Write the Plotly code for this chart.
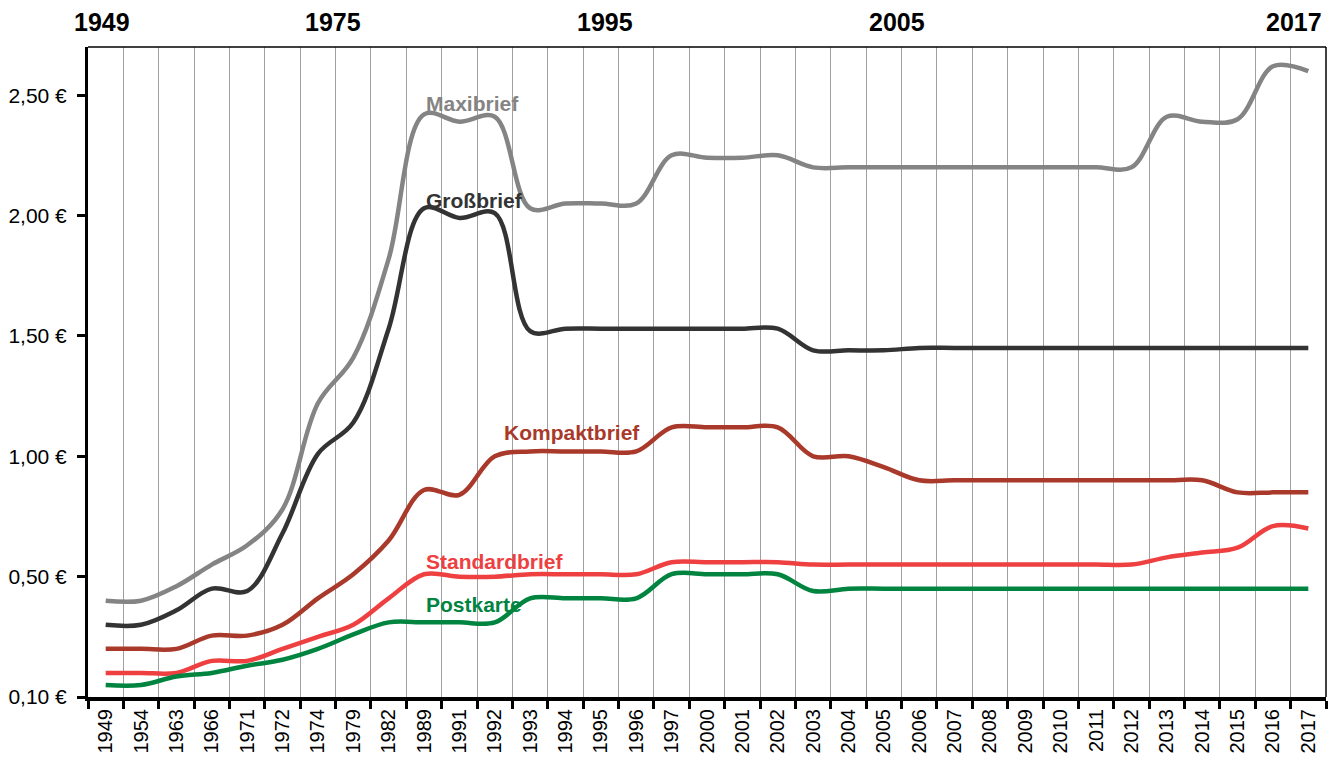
import plotly.graph_objects as go

years = ["1949", "1954", "1963", "1966", "1971", "1972", "1974", "1979", "1982", "1989",
         "1991", "1992", "1993", "1994", "1995", "1996", "1997", "2000", "2001", "2002",
         "2003", "2004", "2005", "2006", "2007", "2008", "2009", "2010", "2011", "2012",
         "2013", "2014", "2015", "2016", "2017"]

maxibrief = [0.40, 0.40, 0.46, 0.55, 0.63, 0.78, 1.22, 1.41, 1.82, 2.42,
             2.39, 2.41, 2.03, 2.05, 2.05, 2.05, 2.25, 2.24, 2.24, 2.25,
             2.20, 2.20, 2.20, 2.20, 2.20, 2.20, 2.20, 2.20, 2.20, 2.20,
             2.41, 2.39, 2.40, 2.62, 2.60]

grossbrief = [0.30, 0.30, 0.36, 0.45, 0.44, 0.68, 1.01, 1.14, 1.53, 2.03,
              1.99, 2.01, 1.52, 1.53, 1.53, 1.53, 1.53, 1.53, 1.53, 1.53,
              1.44, 1.44, 1.44, 1.45, 1.45, 1.45, 1.45, 1.45, 1.45, 1.45,
              1.45, 1.45, 1.45, 1.45, 1.45]

kompaktbrief = [0.20, 0.20, 0.20, 0.255, 0.255, 0.30, 0.41, 0.51, 0.65, 0.86,
                0.84, 1.00, 1.02, 1.02, 1.02, 1.02, 1.12, 1.12, 1.12, 1.12,
                1.00, 1.00, 0.955, 0.90, 0.90, 0.90, 0.90, 0.90, 0.90, 0.90,
                0.90, 0.90, 0.85, 0.85, 0.85]

standardbrief = [0.10, 0.10, 0.10, 0.15, 0.15, 0.20, 0.25, 0.30, 0.41, 0.51,
                 0.50, 0.50, 0.51, 0.51, 0.51, 0.51, 0.56, 0.56, 0.56, 0.56,
                 0.55, 0.55, 0.55, 0.55, 0.55, 0.55, 0.55, 0.55, 0.55, 0.55,
                 0.58, 0.60, 0.62, 0.71, 0.70]

postkarte = [0.05, 0.05, 0.085, 0.10, 0.13, 0.155, 0.20, 0.26, 0.31, 0.31,
             0.31, 0.31, 0.41, 0.41, 0.41, 0.41, 0.51, 0.51, 0.51, 0.51,
             0.44, 0.45, 0.45, 0.45, 0.45, 0.45, 0.45, 0.45, 0.45, 0.45,
             0.45, 0.45, 0.45, 0.45, 0.45]

y_tickvals = [0, 0.5, 1.0, 1.5, 2.0, 2.5]
y_ticktext = ["0,10 €", "0,50 €", "1,00 €", "1,50 €", "2,00 €", "2,50 €"]

top_labels = ["1949", "1975", "1995", "2005", "2017"]
top_label_pos = [0.0113, 0.198, 0.4176, 0.6535, 0.974]

series = [
    ("Maxibrief", maxibrief, "#848484", 9.0, 2.466),
    ("Großbrief", grossbrief, "#333333", 9.0, 2.061),
    ("Kompaktbrief", kompaktbrief, "#A9392A", 11.2, 1.0975),
    ("Standardbrief", standardbrief, "#EE4040", 9.0, 0.563),
    ("Postkarte", postkarte, "#00843F", 9.0, 0.384),
]

FONT = "Liberation Sans, Arial, sans-serif"

fig = go.Figure()
for name, vals, color, lx, ly in series:
    fig.add_trace(go.Scatter(
        x=years, y=vals, mode="lines", name=name,
        line=dict(color=color, width=4.5, shape="spline", smoothing=1.0),
        showlegend=False, hoverinfo="x+y+name",
    ))
    fig.add_annotation(
        x=lx, y=ly, xref="x", yref="y", text="<b>%s</b>" % name,
        showarrow=False, xanchor="left", yanchor="middle",
        font=dict(family=FONT, size=21, color=color),
    )

for txt, px in zip(top_labels, top_label_pos):
    fig.add_annotation(
        x=px, y=1.0385, xref="paper", yref="paper", text="<b>%s</b>" % txt,
        showarrow=False, xanchor="center", yanchor="middle",
        font=dict(family=FONT, size=25, color="black"),
    )

# thin frame on top and right
fig.add_shape(type="line", xref="paper", yref="paper", x0=0, x1=1, y0=1, y1=1,
              line=dict(color="black", width=1.5))
fig.add_shape(type="line", xref="paper", yref="paper", x0=1, x1=1, y0=0, y1=1,
              line=dict(color="black", width=1.5))

fig.update_layout(
    width=1336, height=758,
    margin=dict(l=88, r=10, t=47, b=61),
    paper_bgcolor="white", plot_bgcolor="white",
    font=dict(family=FONT, size=21, color="black"),
    xaxis=dict(
        type="category", categoryorder="array", categoryarray=years,
        range=[-0.5, len(years) - 0.5],
        tickson="boundaries", ticks="outside", ticklen=8, tickwidth=3, tickcolor="black",
        showgrid=True, gridcolor="#A0A0A0", gridwidth=1,
        showline=True, linecolor="black", linewidth=4,
        tickangle=-90, tickfont=dict(family=FONT, size=20, color="black"),
        automargin=False, zeroline=False,
    ),
    yaxis=dict(
        range=[0, 2.70],
        tickvals=y_tickvals, ticktext=y_ticktext,
        ticks="outside", ticklen=8, tickwidth=3, tickcolor="black",
        ticklabelstandoff=6,
        showgrid=False, showline=True, linecolor="black", linewidth=3,
        zeroline=False, tickfont=dict(family=FONT, size=21, color="black"),
        automargin=False,
    ),
)

fig.write_html(
    "out.html",
    config={"displayModeBar": False},
    post_script="document.body.style.margin='0';document.body.style.overflow='hidden';",
)
